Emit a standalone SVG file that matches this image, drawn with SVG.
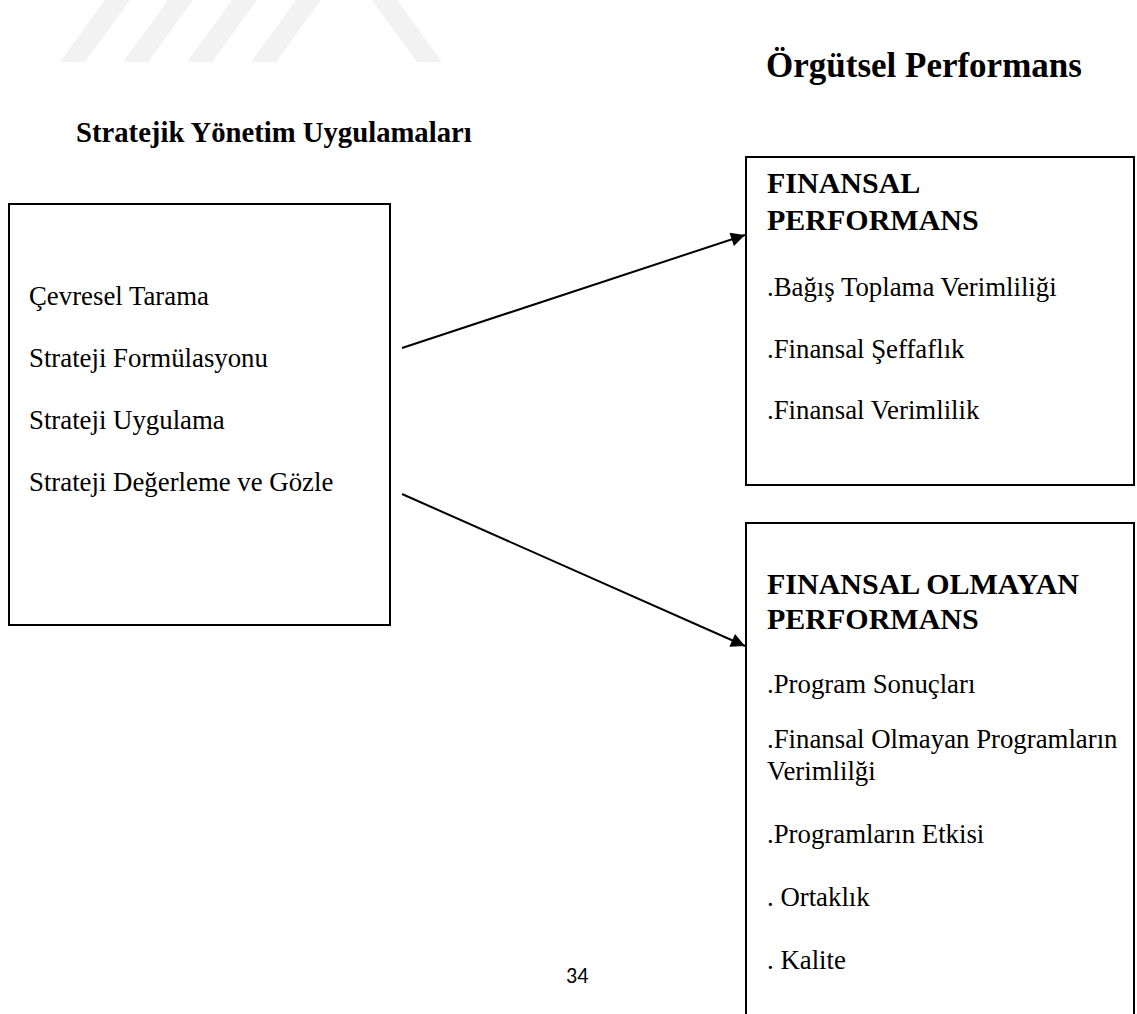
<svg xmlns="http://www.w3.org/2000/svg" width="1137" height="1014" viewBox="0 0 1137 1014">
<defs>
<style>
.box{fill:none;stroke:#000;stroke-width:2}
.t{font-family:"Liberation Serif","Times New Roman",serif;font-size:26.8px;fill:#000}
.b{font-family:"Liberation Serif","Times New Roman",serif;font-size:30px;font-weight:bold;fill:#000}
.h{font-family:"Liberation Serif","Times New Roman",serif;font-weight:bold;fill:#000}
.wm{fill:#f2f2f2}
.conn{stroke:#000;stroke-width:2;fill:none}
</style>
<marker id="arr" viewBox="0 0 10 10" refX="10" refY="5" markerWidth="9" markerHeight="7" markerUnits="strokeWidth" orient="auto">
<path d="M0,0 L10,5 L0,10 z" fill="#000"/>
</marker>
</defs>
<rect width="1137" height="1014" fill="#fff"/>
<g id="watermark">
<polygon class="wm" points="105,0 130,0 85,62 60,62"/>
<polygon class="wm" points="168,0 193,0 148,62 123,62"/>
<polygon class="wm" points="232,0 257,0 212,62 187,62"/>
<polygon class="wm" points="296,0 321,0 276,62 251,62"/>
<polygon class="wm" points="372,0 397,0 442,62 417,62"/>
</g>
<g id="titles">
<text class="h" x="766" y="77" font-size="35px">Örgütsel Performans</text>
<text class="h" x="76" y="142" font-size="28.7px">Stratejik Yönetim Uygulamaları</text>
</g>
<g id="node-strateji">
<rect class="box" x="9" y="204" width="381" height="421"/>
<text class="t" x="29" y="305">Çevresel Tarama</text>
<text class="t" x="29" y="367">Strateji Formülasyonu</text>
<text class="t" x="29" y="429">Strateji Uygulama</text>
<text class="t" x="29" y="491">Strateji Değerleme ve Gözle</text>
</g>
<g id="node-finansal">
<rect class="box" x="746" y="157" width="388" height="328"/>
<text class="b" x="767" y="193">FINANSAL</text>
<text class="b" x="767" y="230">PERFORMANS</text>
<text class="t" x="767" y="296">.Bağış Toplama Verimliliği</text>
<text class="t" x="767" y="358">.Finansal Şeffaflık</text>
<text class="t" x="767" y="419">.Finansal Verimlilik</text>
</g>
<g id="node-finansal-olmayan">
<path class="box" d="M746,1016 L746,523 L1134,523 L1134,1016"/>
<text class="b" x="767" y="594">FINANSAL OLMAYAN</text>
<text class="b" x="767" y="629">PERFORMANS</text>
<text class="t" x="767" y="693">.Program Sonuçları</text>
<text class="t" x="767" y="748">.Finansal Olmayan Programların</text>
<text class="t" x="767" y="780">Verimlilği</text>
<text class="t" x="767" y="843">.Programların Etkisi</text>
<text class="t" x="767" y="906">. Ortaklık</text>
<text class="t" x="767" y="969">. Kalite</text>
</g>
<g id="connectors">
<line class="conn" x1="402" y1="348" x2="745" y2="235" marker-end="url(#arr)"/>
<line class="conn" x1="402" y1="494" x2="745" y2="646" marker-end="url(#arr)"/>
</g>
<text x="566" y="983" font-family="Carlito,'Open Sans','Liberation Sans',sans-serif" font-size="22" fill="#000">34</text>
</svg>
